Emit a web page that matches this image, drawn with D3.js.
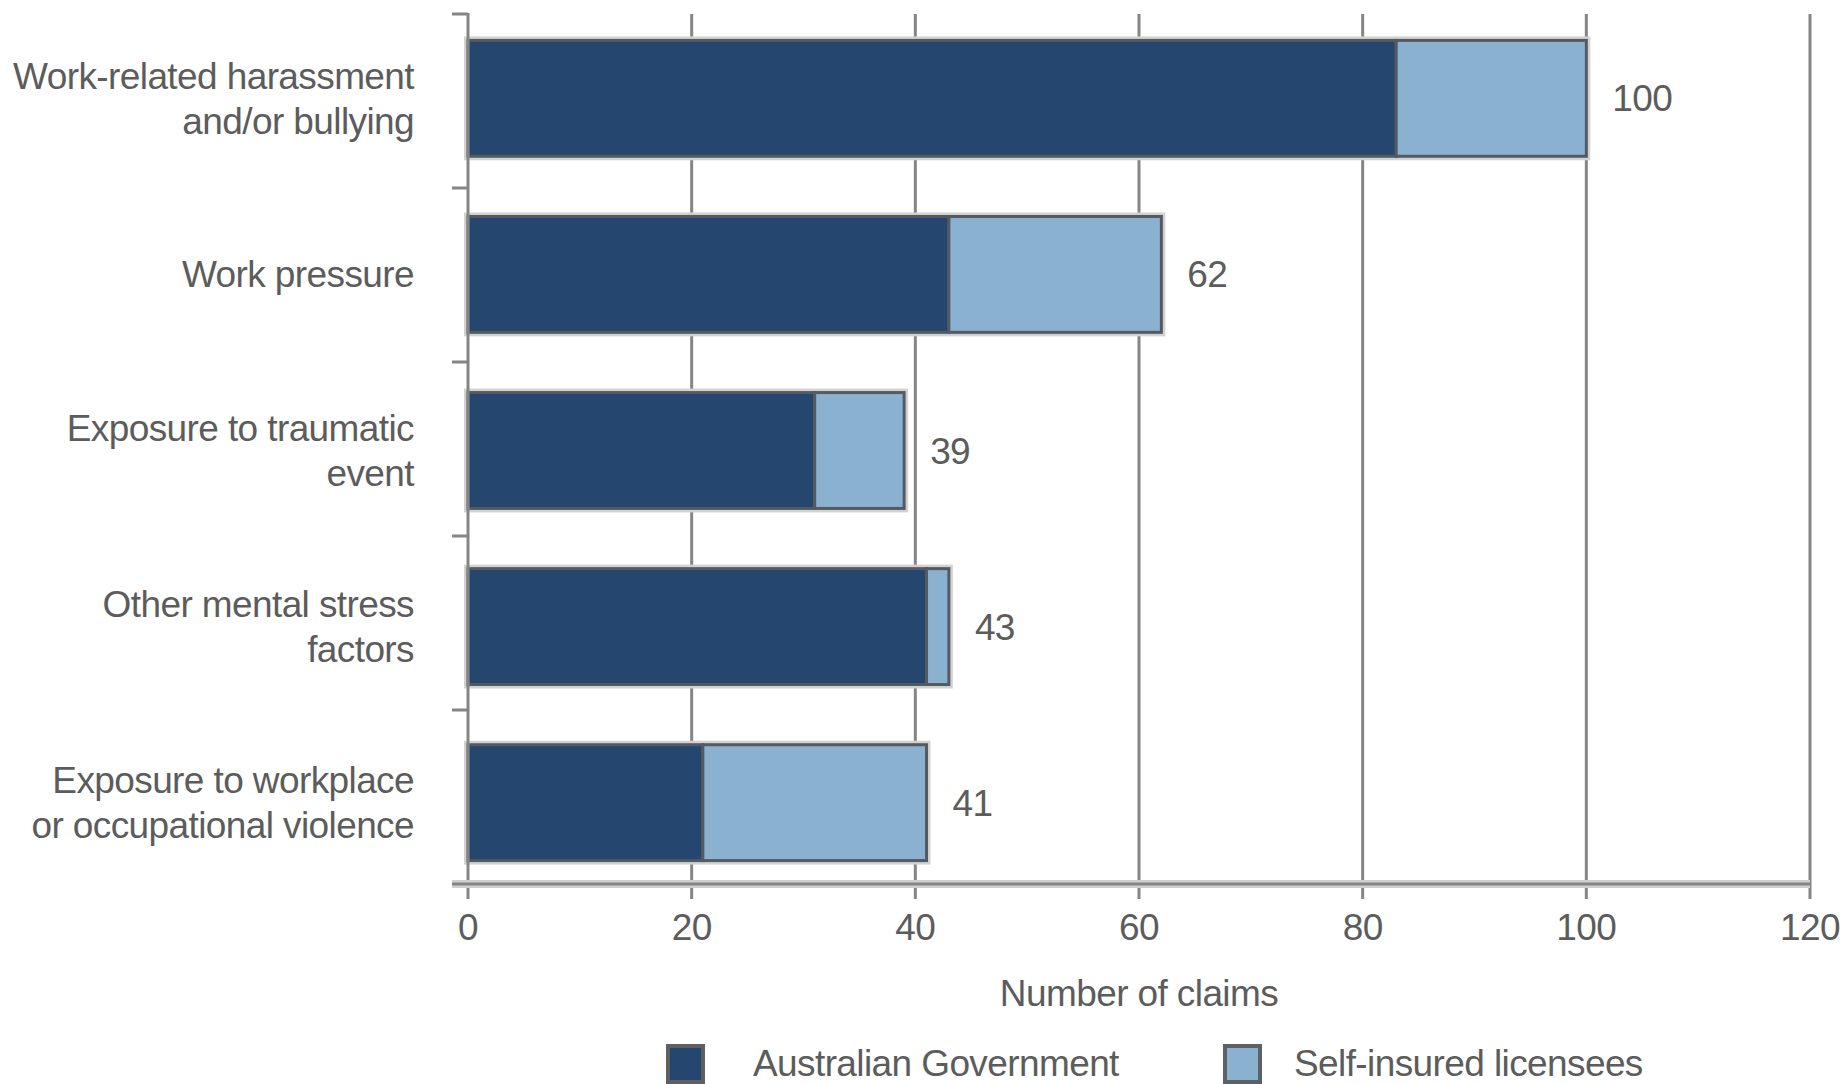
<!DOCTYPE html>
<html>
<head>
<meta charset="utf-8">
<title>Mental stress claims by mechanism</title>
<script src="https://cdn.jsdelivr.net/npm/d3@7"></script>
<style>
  html, body { margin: 0; padding: 0; background: #ffffff; }
  svg { display: block; }
  text { font-family: "Liberation Sans", Arial, sans-serif; fill: #5c5c5c; letter-spacing: -0.6px; }
</style>
</head>
<body>
<script>
// Claim mechanisms (each label is split into its display lines)
const categories = [
  "Work-related harassment and/or bullying",
  "Work pressure",
  "Exposure to traumatic event",
  "Other mental stress factors",
  "Exposure to workplace or occupational violence"
];
const categoryLines = [
  ["Work-related harassment", "and/or bullying"],
  ["Work pressure"],
  ["Exposure to traumatic", "event"],
  ["Other mental stress", "factors"],
  ["Exposure to workplace", "or occupational violence"]
];

// Number of claims per scheme
const australianGovernment = [83, 43, 31, 41, 21];
const selfInsuredLicensees = [17, 19, 8, 2, 20];

// Axis
const xTicks = [0, 20, 40, 60, 80, 100, 120];
const xTitle = "Number of claims";

// Legend
const seriesNames = ["Australian Government", "Self-insured licensees"];
const seriesColors = ["#24466f", "#8bb1d1"];

const W = 1843, H = 1084;
const svg = d3.select("body").append("svg").attr("width", W).attr("height", H);

const rows = categories.map((c, i) => ({
  category: c,
  lines: categoryLines[i],
  gov: australianGovernment[i],
  self: selfInsuredLicensees[i],
  total: australianGovernment[i] + selfInsuredLicensees[i]
}));

const x = d3.scaleLinear().domain([0, 120]).range([468, 1810]);
// category bands for the axis ticks
const yAxisBand = d3.scaleBand().domain(categories).range([14, 884]).padding(0);
// bands for the bars themselves
const y = d3.scaleBand().domain(categories).range([14, 887])
  .paddingInner(0.342).paddingOuter(0.15);

const axisColor = "#858585";
const fontSize = 37;

// vertical gridlines (with tick stubs below the axis)
svg.append("g").selectAll("line").data(xTicks.filter(t => t > 0)).join("line")
  .attr("x1", d => x(d)).attr("x2", d => x(d))
  .attr("y1", 14).attr("y2", 899)
  .attr("stroke", axisColor).attr("stroke-width", 3);

// bars
const stack = d3.stack().keys(["gov", "self"])(rows);
const barG = svg.append("g");

// soft halo around each bar
barG.selectAll("rect.halo").data(rows).join("rect")
  .attr("class", "halo")
  .attr("x", x(0)).attr("y", d => y(d.category))
  .attr("width", d => x(d.total) - x(0)).attr("height", y.bandwidth())
  .attr("fill", "none").attr("stroke", "#d2d2d2").attr("stroke-width", 8);

stack.forEach((layer, li) => {
  barG.append("g").selectAll("rect").data(layer).join("rect")
    .attr("x", d => x(d[0]))
    .attr("y", d => y(d.data.category))
    .attr("width", d => x(d[1]) - x(d[0]))
    .attr("height", y.bandwidth())
    .attr("fill", seriesColors[li])
    .attr("stroke", "#545a61").attr("stroke-width", 3);
});

// y axis line and category boundary ticks
const yAxisG = svg.append("g");
yAxisG.append("line")
  .attr("x1", x(0)).attr("x2", x(0)).attr("y1", 13).attr("y2", 899)
  .attr("stroke", axisColor).attr("stroke-width", 3);
const boundaries = categories.map(c => yAxisBand(c)).concat([yAxisBand.range()[1]]);
yAxisG.selectAll("line.tick").data(boundaries).join("line")
  .attr("class", "tick")
  .attr("x1", x(0) - 16).attr("x2", x(0))
  .attr("y1", d => d).attr("y2", d => d)
  .attr("stroke", axisColor).attr("stroke-width", 3);

// x axis baseline
svg.append("line")
  .attr("x1", x(0) - 16).attr("x2", x(120)).attr("y1", 884).attr("y2", 884)
  .attr("stroke", "#d0d0d0").attr("stroke-width", 8);
svg.append("line")
  .attr("x1", x(0) - 16).attr("x2", x(120)).attr("y1", 884).attr("y2", 884)
  .attr("stroke", axisColor).attr("stroke-width", 3);

// x tick labels
svg.append("g").selectAll("text").data(xTicks).join("text")
  .attr("x", d => x(d)).attr("y", 940)
  .attr("text-anchor", "middle").attr("font-size", fontSize)
  .text(d => d);

// x axis title
svg.append("text")
  .attr("x", x(60)).attr("y", 1006)
  .attr("text-anchor", "middle").attr("font-size", fontSize)
  .text(xTitle);

// category labels
const lineGap = 45;
svg.append("g").selectAll("text").data(rows).join("text")
  .attr("text-anchor", "end").attr("font-size", fontSize)
  .each(function(d) {
    const cy = y(d.category) + y.bandwidth() / 2;
    const n = d.lines.length;
    d3.select(this).selectAll("tspan").data(d.lines).join("tspan")
      .attr("x", 414)
      .attr("y", (l, i) => cy + (i - (n - 1) / 2) * lineGap + 13)
      .text(l => l);
  });

// total labels
svg.append("g").selectAll("text").data(rows).join("text")
  .attr("x", d => x(d.total) + 26)
  .attr("y", d => y(d.category) + y.bandwidth() / 2 + 13)
  .attr("font-size", fontSize)
  .text(d => d.total);

// legend
const legendItems = [
  { name: seriesNames[0], color: seriesColors[0], sx: 668, tx: 753 },
  { name: seriesNames[1], color: seriesColors[1], sx: 1225, tx: 1294 }
];
const lg = svg.append("g");
lg.selectAll("rect").data(legendItems).join("rect")
  .attr("x", d => d.sx).attr("y", 1046)
  .attr("width", 35).attr("height", 36)
  .attr("fill", d => d.color)
  .attr("stroke", "#5d6166").attr("stroke-width", 4);
lg.selectAll("text").data(legendItems).join("text")
  .attr("x", d => d.tx).attr("y", 1076)
  .attr("font-size", fontSize)
  .text(d => d.name);
</script>
</body>
</html>
